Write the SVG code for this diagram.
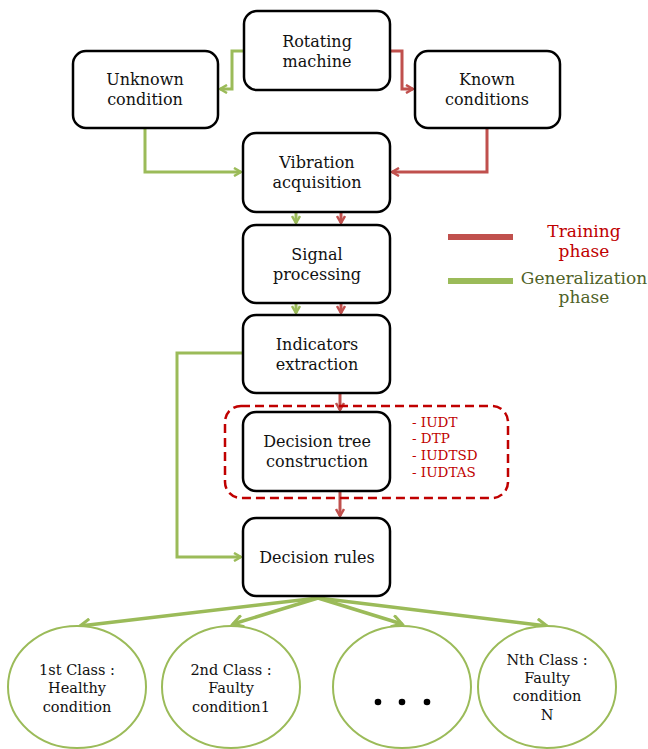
<svg xmlns="http://www.w3.org/2000/svg" width="648" height="749" viewBox="0 0 648 749">
<style>
.box{fill:#fff;stroke:#000;stroke-width:2.5}
.t{font-family:"DejaVu Serif",serif;font-size:16px;fill:#111;text-anchor:middle}
.ct{font-family:"DejaVu Serif",serif;font-size:14.5px;fill:#111;text-anchor:middle}
.g{fill:none;stroke:#9BBB59;stroke-width:3}
.r{fill:none;stroke:#C0504D;stroke-width:3}
.circ{fill:#fff;stroke:#9BBB59;stroke-width:2}
.lst{font-family:"DejaVu Serif",serif;font-size:13.5px;fill:#C00000}
.lg{font-family:"DejaVu Serif",serif;font-size:17px;text-anchor:middle}
</style>
<defs>
<marker id="ag" markerWidth="10" markerHeight="10" refX="8" refY="5" orient="auto" markerUnits="userSpaceOnUse"><path d="M1,1 L8,5 L1,9" fill="none" stroke="#9BBB59" stroke-width="2.5"/></marker>
<marker id="ar" markerWidth="10" markerHeight="10" refX="8" refY="5" orient="auto" markerUnits="userSpaceOnUse"><path d="M1,1 L8,5 L1,9" fill="none" stroke="#C0504D" stroke-width="2.5"/></marker>
<marker id="agb" markerWidth="14" markerHeight="14" refX="11" refY="7" orient="auto" markerUnits="userSpaceOnUse"><path d="M1,1 L11,7 L1,13" fill="none" stroke="#9BBB59" stroke-width="3"/></marker>
</defs>
<g id="connectors">
<path class="g" d="M244,51 H232 V89 H220" marker-end="url(#ag)"/>
<path class="r" d="M390,51 H402 V89 H413" marker-end="url(#ar)"/>
<path class="g" d="M145,128 V172 H241" marker-end="url(#ag)"/>
<path class="r" d="M487,128 V172 H392" marker-end="url(#ar)"/>
<path class="g" d="M296,212 V223" marker-end="url(#ag)"/>
<path class="r" d="M341,212 V223" marker-end="url(#ar)"/>
<path class="g" d="M296,303 V313" marker-end="url(#ag)"/>
<path class="r" d="M341,303 V313" marker-end="url(#ar)"/>
<path class="r" d="M340,393 V410" marker-end="url(#ar)"/>
<path class="r" d="M340,491 V516" marker-end="url(#ar)"/>
<path class="g" d="M243,353 H177 V557 H241" marker-end="url(#ag)"/>
<path class="g" style="stroke-width:3.5" d="M318,598 L80,626" marker-end="url(#agb)"/>
<path class="g" style="stroke-width:3.5" d="M318,598 L233,624" marker-end="url(#agb)"/>
<path class="g" style="stroke-width:3.5" d="M318,598 L402,624" marker-end="url(#agb)"/>
<path class="g" style="stroke-width:3.5" d="M318,598 L547,626" marker-end="url(#agb)"/>
</g>
<g id="legend">
<line x1="448" y1="237" x2="513" y2="237" stroke="#C0504D" stroke-width="6"/>
<line x1="448" y1="281" x2="513" y2="281" stroke="#9BBB59" stroke-width="6"/>
<text class="lg" x="584" y="237" fill="#C00000">Training</text>
<text class="lg" x="584" y="257" fill="#C00000">phase</text>
<text class="lg" x="584" y="284" fill="#4F6228">Generalization</text>
<text class="lg" x="584" y="303" fill="#4F6228">phase</text>
</g>
<g id="dtgroup">
<rect x="225" y="406" width="283" height="92" rx="16" fill="none" stroke="#C00000" stroke-width="2.5" stroke-dasharray="9,5"/>
<text class="lst" x="412" y="427">- IUDT</text>
<text class="lst" x="412" y="443">- DTP</text>
<text class="lst" x="412" y="460">- IUDTSD</text>
<text class="lst" x="412" y="477">- IUDTAS</text>
</g>
<g id="rotating"><rect class="box" x="244" y="11" width="146" height="79" rx="13"/><text class="t" x="317" y="47">Rotating</text><text class="t" x="317" y="67">machine</text></g>
<g id="unknown"><rect class="box" x="73" y="51" width="145" height="77" rx="13"/><text class="t" x="145" y="85">Unknown</text><text class="t" x="145" y="105">condition</text></g>
<g id="known"><rect class="box" x="415" y="51" width="145" height="77" rx="13"/><text class="t" x="487" y="85">Known</text><text class="t" x="487" y="105">conditions</text></g>
<g id="vibration"><rect class="box" x="243" y="133" width="147" height="79" rx="13"/><text class="t" x="317" y="168">Vibration</text><text class="t" x="317" y="188">acquisition</text></g>
<g id="signal"><rect class="box" x="243" y="225" width="147" height="78" rx="13"/><text class="t" x="317" y="260">Signal</text><text class="t" x="317" y="280">processing</text></g>
<g id="indicators"><rect class="box" x="243" y="315" width="147" height="78" rx="13"/><text class="t" x="317" y="350">Indicators</text><text class="t" x="317" y="370">extraction</text></g>
<g id="dtree"><rect class="box" x="243" y="412" width="147" height="79" rx="13"/><text class="t" x="317" y="447">Decision tree</text><text class="t" x="317" y="467">construction</text></g>
<g id="rules"><rect class="box" x="243" y="518" width="147" height="78" rx="13"/><text class="t" x="317" y="563">Decision rules</text></g>
<g id="class1"><ellipse class="circ" cx="77" cy="687" rx="69" ry="61"/><text class="ct" x="77" y="675">1st Class :</text><text class="ct" x="77" y="693">Healthy</text><text class="ct" x="77" y="712">condition</text></g>
<g id="class2"><ellipse class="circ" cx="231" cy="687" rx="69" ry="61"/><text class="ct" x="231" y="675">2nd Class :</text><text class="ct" x="231" y="693">Faulty</text><text class="ct" x="231" y="712">condition1</text></g>
<g id="classdots"><ellipse class="circ" cx="402" cy="687" rx="69" ry="61"/><circle cx="378" cy="702" r="3.3" fill="#000"/><circle cx="402" cy="702" r="3.3" fill="#000"/><circle cx="427" cy="702" r="3.3" fill="#000"/></g>
<g id="classN"><ellipse class="circ" cx="547" cy="687" rx="69" ry="61"/><text class="ct" x="547" y="665">Nth Class :</text><text class="ct" x="547" y="683">Faulty</text><text class="ct" x="547" y="701">condition</text><text class="ct" x="547" y="720">N</text></g>
</svg>
